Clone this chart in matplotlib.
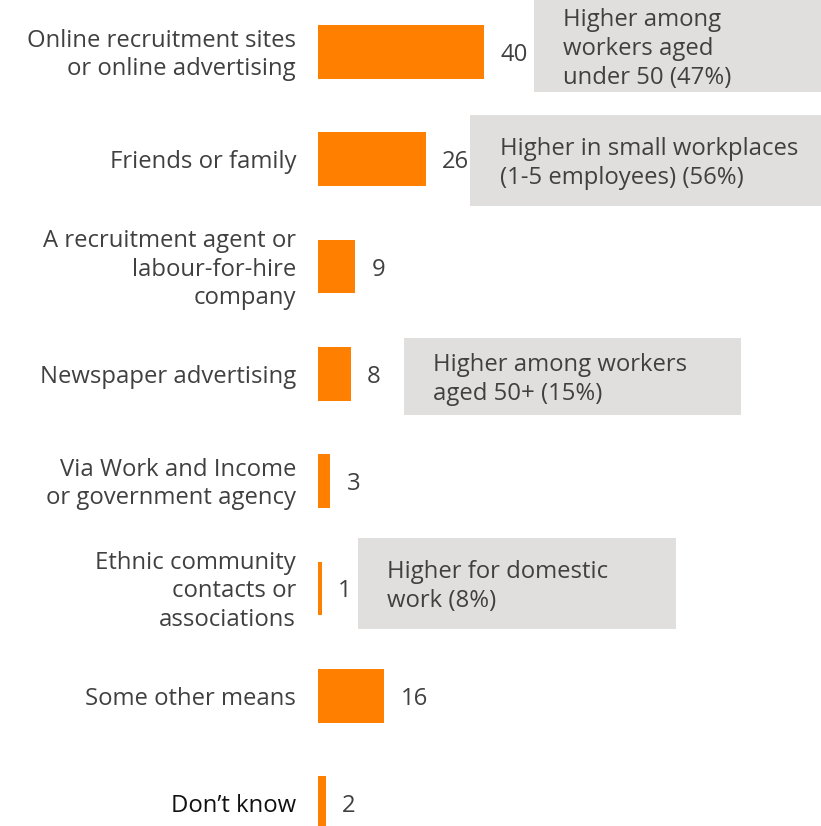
import matplotlib
matplotlib.use("Agg")
import matplotlib.pyplot as plt
from matplotlib.patches import Rectangle

plt.rcParams['font.family'] = ['Open Sans', 'DejaVu Sans']

categories = [
    "Online recruitment sites\nor online advertising",
    "Friends or family",
    "A recruitment agent or\nlabour-for-hire\ncompany",
    "Newspaper advertising",
    "Via Work and Income\nor government agency",
    "Ethnic community\ncontacts or\nassociations",
    "Some other means",
    "Don\u2019t know",
]
values = [40, 26, 9, 8, 3, 1, 16, 2]

notes = [
    "Higher among\nworkers aged\nunder 50 (47%)",
    "Higher in small workplaces\n(1-5 employees) (56%)",
    "Higher among workers\naged 50+ (15%)",
    "Higher for domestic\nwork (8%)",
]
# note boxes in pixels: left, top, right, bottom, text x
note_boxes = [
    (534, 0, 821, 92, 563),
    (470, 115, 821, 206, 500),
    (404, 338, 741, 415, 433),
    (358, 538, 676, 629, 387),
]

W, H = 821, 826
fs = 17.2
ls = 1.26
dy = -3  # nudge text down a little
fig = plt.figure(figsize=(W / 100, H / 100), dpi=100)
ax = fig.add_axes([318 / W, 0, 1 - 318 / W, 1])

orange = "#FF7F00"
txt = "#404040"
ypos = list(range(len(values)))
ax.barh(ypos, values, height=0.5, color=orange)
ax.set_xlim(0, (W - 318) / 4.15)
ax.set_ylim(7 + 23 / 107.3, -52 / 107.3)
ax.axis("off")

for y, v in zip(ypos, values):
    ax.annotate(str(v), (v, y), xytext=(16, dy), textcoords="offset pixels",
                va="center", ha="left", fontsize=fs, color=txt)

for i, (y, c) in enumerate(zip(ypos, categories)):
    col = "#111111" if i == len(categories) - 1 else txt
    ax.annotate(c, (0, y), xytext=(-22, dy), textcoords="offset pixels",
                va="center", ha="right", fontsize=fs, color=col,
                linespacing=ls, annotation_clip=False)

for note, (l, t, r, b, tx) in zip(notes, note_boxes):
    fig.add_artist(Rectangle((l / W, 1 - b / H), (r - l) / W, (b - t) / H,
                             transform=fig.transFigure, facecolor="#E0DFDE",
                             edgecolor="none"))
    fig.text(tx / W, 1 - ((t + b) / 2 - dy) / H, note, va="center", ha="left",
             fontsize=fs, color=txt, linespacing=ls)

fig.savefig("out.png", dpi=100)
